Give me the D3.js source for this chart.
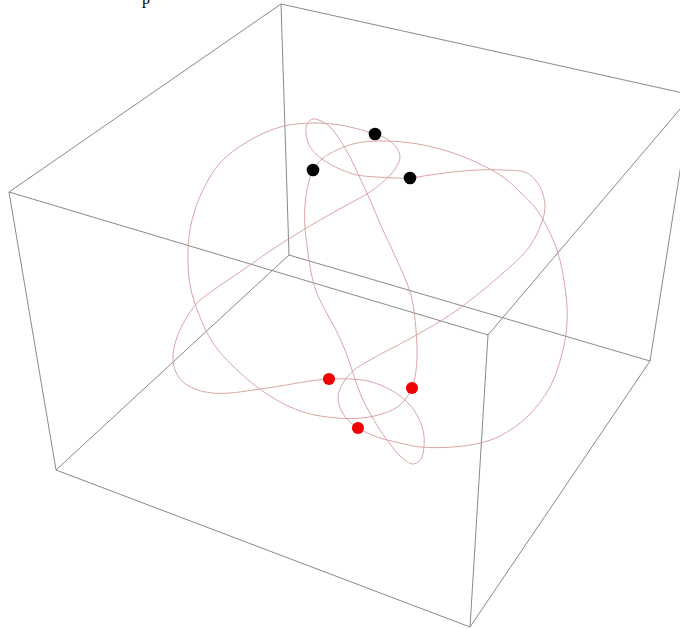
<!DOCTYPE html>
<html>
<head>
<meta charset="utf-8">
<script src="https://cdn.jsdelivr.net/npm/d3@7"></script>
<style>
  html, body { margin: 0; padding: 0; background: #ffffff; overflow: hidden; }
  svg { display: block; }
</style>
</head>
<body>
<svg id="chart" width="680" height="629"></svg>
<script>
// Projected view-plane coordinates: u to the right, v upward.

// Bounding box corners: top face (0-3), bottom face (4-7)
const boxCorners = [
  [-3.31, 1.22], [-0.59, 3.10], [3.52, 2.19], [1.48, -0.21],
  [-2.84, -1.56], [-0.51, 0.59], [3.10, -0.47], [1.30, -3.13]
];
const boxEdges = [
  [0, 1], [1, 2], [2, 3], [3, 0],
  [4, 5], [5, 6], [6, 7], [7, 4],
  [0, 4], [1, 5], [2, 6], [3, 7]
];

// Height maxima (black) and minima (red) of the closed curve
const peakPoints = [[0.35, 1.80], [-0.27, 1.44], [0.70, 1.36]];
const troughPoints = [[-0.11, -0.65], [0.72, -0.74], [0.18, -1.14]];

// The closed curve, split into the arcs running between consecutive extrema
const arcPeak1ToTrough2 = [
  [0.35, 1.80], [0.18, 1.85], [0.00, 1.89], [-0.27, 1.91], [-0.60, 1.87], [-0.93, 1.72],
  [-1.20, 1.51], [-1.37, 1.24], [-1.48, 0.94], [-1.52, 0.64], [-1.50, 0.29], [-1.42, 0.02],
  [-1.27, -0.29], [-1.03, -0.56], [-0.70, -0.82], [-0.37, -0.98], [-0.03, -1.04], [0.22, -1.04],
  [0.45, -0.99], [0.60, -0.91], [0.69, -0.80]
];
const arcTrough2ToPeak3 = [
  [0.72, -0.74], [0.75, -0.63], [0.77, -0.43], [0.76, -0.16], [0.71, 0.19], [0.55, 0.58],
  [0.42, 0.86], [0.30, 1.14], [0.20, 1.36], [0.10, 1.57], [0.00, 1.74], [-0.10, 1.87],
  [-0.19, 1.93], [-0.27, 1.95], [-0.33, 1.90], [-0.34, 1.81], [-0.31, 1.69], [-0.23, 1.59],
  [-0.12, 1.51], [0.02, 1.44], [0.17, 1.39], [0.37, 1.37], [0.55, 1.36]
];
const arcPeak3ToTrough3 = [
  [0.70, 1.36], [0.90, 1.39], [1.13, 1.42], [1.38, 1.44], [1.63, 1.44], [1.87, 1.41],
  [2.00, 1.27], [2.05, 1.07], [2.00, 0.87], [1.87, 0.64], [1.63, 0.41], [1.43, 0.24],
  [1.13, 0.01], [0.73, -0.23], [0.30, -0.46], [0.13, -0.57], [0.03, -0.69], [-0.02, -0.83],
  [0.01, -0.96], [0.09, -1.07]
];
const arcTrough3ToPeak2 = [
  [0.18, -1.14], [0.37, -1.23], [0.60, -1.29], [0.80, -1.33], [1.13, -1.33], [1.40, -1.29],
  [1.60, -1.22], [1.87, -1.03], [2.10, -0.73], [2.23, -0.36], [2.27, -0.09], [2.26, 0.19],
  [2.17, 0.64], [1.97, 1.04], [1.80, 1.22], [1.63, 1.37], [1.40, 1.50], [1.13, 1.61],
  [0.88, 1.68], [0.63, 1.72], [0.40, 1.73], [0.17, 1.71], [-0.03, 1.64], [-0.18, 1.55]
];
const arcPeak2ToTrough1 = [
  [-0.27, 1.44], [-0.32, 1.29], [-0.35, 1.09], [-0.35, 0.86], [-0.32, 0.61], [-0.29, 0.42],
  [-0.24, 0.23], [-0.15, 0.04], [-0.04, -0.16], [0.05, -0.36], [0.11, -0.53], [0.17, -0.71],
  [0.23, -0.86], [0.31, -1.01], [0.40, -1.16], [0.50, -1.30], [0.60, -1.42], [0.73, -1.50],
  [0.81, -1.45], [0.84, -1.32], [0.83, -1.16], [0.74, -0.96], [0.60, -0.82], [0.45, -0.73],
  [0.28, -0.67], [0.10, -0.65]
];
const arcTrough1ToPeak1 = [
  [-0.11, -0.65], [-0.30, -0.67], [-0.60, -0.72], [-0.87, -0.76], [-1.10, -0.79], [-1.28, -0.79],
  [-1.45, -0.75], [-1.58, -0.67], [-1.65, -0.56], [-1.67, -0.43], [-1.64, -0.26], [-1.56, -0.08],
  [-1.43, 0.11], [-1.25, 0.25], [-1.00, 0.42], [-0.70, 0.63], [-0.45, 0.79], [-0.20, 0.94],
  [0.05, 1.08], [0.30, 1.22], [0.44, 1.33], [0.55, 1.45], [0.60, 1.57], [0.56, 1.67],
  [0.47, 1.75]
];

const headingText = "p";

const width = 680, height = 629;
const svg = d3.select("#chart");

const x = d3.scaleLinear().domain([-3.4, 3.4]).range([0, width]);
const y = d3.scaleLinear().domain([3.14, -3.15]).range([0, height]);

// Box wireframe
svg.append("g")
  .attr("fill", "none")
  .attr("stroke", "#7c7c7c")
  .attr("stroke-width", 0.9)
  .selectAll("line")
  .data(boxEdges)
  .join("line")
  .attr("x1", d => x(boxCorners[d[0]][0]))
  .attr("y1", d => y(boxCorners[d[0]][1]))
  .attr("x2", d => x(boxCorners[d[1]][0]))
  .attr("y2", d => y(boxCorners[d[1]][1]));

// Closed space curve
const curvePoints = [].concat(
  arcPeak1ToTrough2, arcTrough2ToPeak3, arcPeak3ToTrough3,
  arcTrough3ToPeak2, arcPeak2ToTrough1, arcTrough1ToPeak1
);
const line = d3.line()
  .x(d => x(d[0]))
  .y(d => y(d[1]))
  .curve(d3.curveCatmullRomClosed.alpha(0.5));

svg.append("path")
  .datum(curvePoints)
  .attr("d", line)
  .attr("fill", "none")
  .attr("stroke", "#d49c98")
  .attr("stroke-width", 0.9);

// Extrema markers
svg.append("g")
  .selectAll("circle")
  .data(peakPoints)
  .join("circle")
  .attr("cx", d => x(d[0]))
  .attr("cy", d => y(d[1]))
  .attr("r", 6.3)
  .attr("fill", "#000000");

svg.append("g")
  .selectAll("circle")
  .data(troughPoints)
  .join("circle")
  .attr("cx", d => x(d[0]))
  .attr("cy", d => y(d[1]))
  .attr("r", 6.1)
  .attr("fill", "#f20000");

// Heading glyph at the top edge
svg.append("text")
  .attr("x", 142)
  .attr("y", 4)
  .attr("font-family", "Liberation Serif, Times New Roman, serif")
  .attr("font-size", 16)
  .attr("fill", "#000")
  .text(headingText);
</script>
</body>
</html>
